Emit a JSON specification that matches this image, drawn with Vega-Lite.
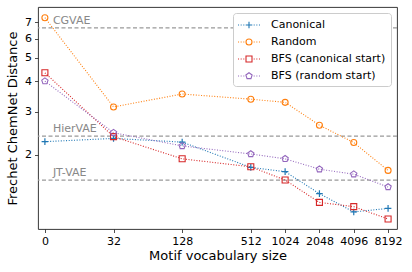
{
  "$schema": "https://vega.github.io/schema/vega-lite/v6.json",
  "width": 359,
  "height": 222,
  "autosize": {"type": "none"},
  "padding": {"left": 38, "top": 7, "right": 15, "bottom": 43},
  "config": {
    "font": "DejaVu Sans",
    "view": {"stroke": "#222", "strokeWidth": 0.9},
    "axis": {"domain": false, "grid": false, "tickColor": "#222", "tickSize": 3.5, "tickWidth": 0.8, "labelColor": "#000", "labelFontSize": 11, "titleFontSize": 13, "titleFontWeight": "normal", "titleColor": "#000", "labelOverlap": false, "labelFlush": false}
  },
  "datasets": {
    "runs": [
      {"series": "Canonical", "vocab": 0, "fcd": 2.26},
      {"series": "Canonical", "vocab": 32, "fcd": 2.33},
      {"series": "Canonical", "vocab": 128, "fcd": 2.25},
      {"series": "Canonical", "vocab": 512, "fcd": 1.77},
      {"series": "Canonical", "vocab": 1024, "fcd": 1.70},
      {"series": "Canonical", "vocab": 2048, "fcd": 1.38},
      {"series": "Canonical", "vocab": 4096, "fcd": 1.16},
      {"series": "Canonical", "vocab": 8192, "fcd": 1.20},
      {"series": "Random", "vocab": 0, "fcd": 7.32},
      {"series": "Random", "vocab": 32, "fcd": 3.14},
      {"series": "Random", "vocab": 128, "fcd": 3.55},
      {"series": "Random", "vocab": 512, "fcd": 3.38},
      {"series": "Random", "vocab": 1024, "fcd": 3.28},
      {"series": "Random", "vocab": 2048, "fcd": 2.64},
      {"series": "Random", "vocab": 4096, "fcd": 2.24},
      {"series": "Random", "vocab": 8192, "fcd": 1.72},
      {"series": "BFS (canonical start)", "vocab": 0, "fcd": 4.34},
      {"series": "BFS (canonical start)", "vocab": 32, "fcd": 2.37},
      {"series": "BFS (canonical start)", "vocab": 128, "fcd": 1.92},
      {"series": "BFS (canonical start)", "vocab": 512, "fcd": 1.78},
      {"series": "BFS (canonical start)", "vocab": 1024, "fcd": 1.57},
      {"series": "BFS (canonical start)", "vocab": 2048, "fcd": 1.27},
      {"series": "BFS (canonical start)", "vocab": 4096, "fcd": 1.22},
      {"series": "BFS (canonical start)", "vocab": 8192, "fcd": 1.085},
      {"series": "BFS (random start)", "vocab": 0, "fcd": 4.01},
      {"series": "BFS (random start)", "vocab": 32, "fcd": 2.46},
      {"series": "BFS (random start)", "vocab": 128, "fcd": 2.17},
      {"series": "BFS (random start)", "vocab": 512, "fcd": 2.01},
      {"series": "BFS (random start)", "vocab": 1024, "fcd": 1.92},
      {"series": "BFS (random start)", "vocab": 2048, "fcd": 1.74},
      {"series": "BFS (random start)", "vocab": 4096, "fcd": 1.66},
      {"series": "BFS (random start)", "vocab": 8192, "fcd": 1.47}
    ],
    "refs": [
      {"model": "CGVAE", "fcd": 6.65},
      {"model": "HierVAE", "fcd": 2.38},
      {"model": "JT-VAE", "fcd": 1.57}
    ]
  },
  "layer": [
    {
      "data": {"name": "refs"},
      "mark": {"type": "rule", "color": "#999", "strokeWidth": 1.2, "strokeDash": [4, 2.5]},
      "encoding": {"y": {"field": "fcd", "type": "quantitative", "scale": {"type": "log", "domain": [0.987, 8.1], "nice": false}}}
    },
    {
      "data": {"name": "refs"},
      "mark": {"type": "text", "color": "#888", "fontSize": 11, "align": "left", "baseline": "alphabetic", "dy": -4},
      "encoding": {
        "x": {"datum": 9.4, "type": "quantitative", "scale": {"type": "log", "base": 2, "domain": [6.96, 9810], "nice": false}},
        "y": {"field": "fcd", "type": "quantitative", "scale": {"type": "log", "domain": [0.987, 8.1], "nice": false}},
        "text": {"field": "model", "type": "nominal"}
      }
    },
    {
      "data": {"name": "runs"},
      "transform": [{"calculate": "datum.vocab == 0 ? 8 : datum.vocab", "as": "xpos"}],
      "encoding": {
        "x": {
          "field": "xpos", "type": "quantitative",
          "scale": {"type": "log", "base": 2, "domain": [6.96, 9810], "nice": false},
          "axis": {"title": "Motif vocabulary size", "values": [8, 32, 128, 512, 1024, 2048, 4096, 8192], "labelExpr": "datum.value == 8 ? '0' : format(datum.value, 'd')", "titlePadding": 3, "labelPadding": 3}
        },
        "y": {
          "field": "fcd", "type": "quantitative",
          "scale": {"type": "log", "domain": [0.987, 8.1], "nice": false},
          "axis": {"title": "Frechet ChemNet Distance", "values": [2, 3, 4, 5, 6, 7], "format": "d", "titlePadding": 5, "labelPadding": 3}
        }
      },
      "layer": [
        {
          "mark": {"type": "line", "strokeWidth": 1.1, "strokeDash": [1, 1.65]},
          "encoding": {
            "color": {"field": "series", "type": "nominal",
              "scale": {"domain": ["Canonical", "Random", "BFS (canonical start)", "BFS (random start)"], "range": ["#1f77b4", "#ff7f0e", "#d62728", "#9467bd"]},
              "legend": {"title": null, "orient": "top-right", "offset": 6, "padding": 5, "fillColor": "white", "strokeColor": "#ccc", "cornerRadius": 3, "labelFontSize": 11, "labelColor": "#000", "symbolSize": 144, "symbolOffset": 4, "labelOffset": 15, "rowPadding": 4, "symbolStrokeWidth": 1.1,
                "symbolType": "M-1.83,0H-1.66M-1.39,0H-1.22M-0.95,0H-0.78M0.78,0H0.95M1.22,0H1.39M1.66,0H1.83",
                "encode": {"symbols": {"update": {"shape": {"signal": "datum.value === 'Canonical' ? 'M-1.83,0H-1.66M-1.39,0H-1.22M-0.95,0H-0.78M0.78,0H0.95M1.22,0H1.39M1.66,0H1.83M-0.55,0H0.55M0,-0.55V0.55' : datum.value === 'Random' ? 'M-1.83,0H-1.66M-1.39,0H-1.22M-0.95,0H-0.78M0.78,0H0.95M1.22,0H1.39M1.66,0H1.83M0.5,0A0.5,0.5 0 1,1 -0.5,0A0.5,0.5 0 1,1 0.5,0' : datum.value === 'BFS (canonical start)' ? 'M-1.83,0H-1.66M-1.39,0H-1.22M-0.95,0H-0.78M0.78,0H0.95M1.22,0H1.39M1.66,0H1.83M-0.5,-0.5H0.5V0.5H-0.5Z' : 'M-1.83,0H-1.66M-1.39,0H-1.22M-0.95,0H-0.78M0.78,0H0.95M1.22,0H1.39M1.66,0H1.83M0,-0.55L0.523,-0.17L0.323,0.445L-0.323,0.445L-0.523,-0.17Z'"}}}}}}
          }
        },
        {
          "transform": [{"filter": "datum.series == 'Canonical'"}],
          "mark": {"type": "point", "shape": "M-1.1,0H1.1M0,-1.1V1.1", "size": 36, "filled": false, "opacity": 1, "strokeWidth": 1.2, "color": "#1f77b4"}
        },
        {
          "transform": [{"filter": "datum.series == 'Random'"}],
          "mark": {"type": "point", "shape": "M1,0A1,1 0 1,1 -1,0A1,1 0 1,1 1,0", "size": 36, "filled": false, "opacity": 1, "strokeWidth": 1.1, "color": "#ff7f0e"}
        },
        {
          "transform": [{"filter": "datum.series == 'BFS (canonical start)'"}],
          "mark": {"type": "point", "shape": "M-1,-1H1V1H-1Z", "size": 36, "filled": false, "opacity": 1, "strokeWidth": 1.1, "color": "#d62728"}
        },
        {
          "transform": [{"filter": "datum.series == 'BFS (random start)'"}],
          "mark": {"type": "point", "shape": "M0,-1.1L1.046,-0.34L0.647,0.89L-0.647,0.89L-1.046,-0.34Z", "size": 36, "filled": false, "opacity": 1, "strokeWidth": 1.1, "color": "#9467bd"}
        }
      ]
    }
  ]
}
